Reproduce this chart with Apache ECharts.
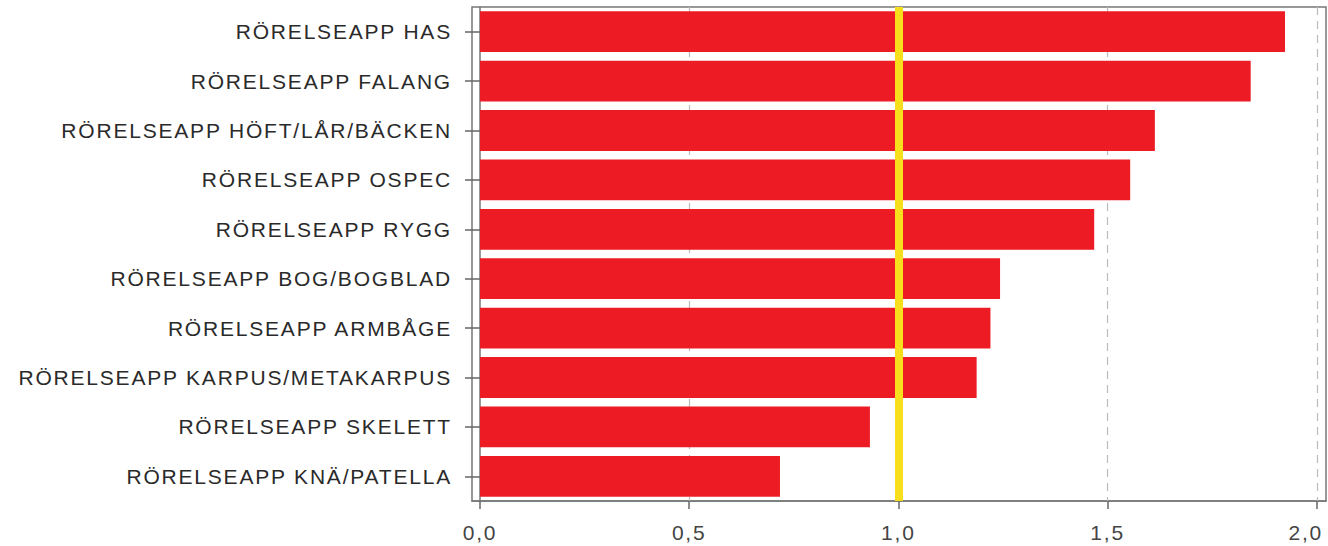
<!DOCTYPE html>
<html>
<head>
<meta charset="utf-8">
<script src="https://cdn.jsdelivr.net/npm/echarts@6/dist/echarts.min.js"></script>
<style>
html,body{margin:0;padding:0;background:#fff;}
#chart{width:1328px;height:546px;}
#chart svg text{letter-spacing:1.8px;}
</style>
</head>
<body>
<div id="chart"></div>
<script>
const categories = [
  'RÖRELSEAPP HAS',
  'RÖRELSEAPP FALANG',
  'RÖRELSEAPP HÖFT/LÅR/BÄCKEN',
  'RÖRELSEAPP OSPEC',
  'RÖRELSEAPP RYGG',
  'RÖRELSEAPP BOG/BOGBLAD',
  'RÖRELSEAPP ARMBÅGE',
  'RÖRELSEAPP KARPUS/METAKARPUS',
  'RÖRELSEAPP SKELETT',
  'RÖRELSEAPP KNÄ/PATELLA'
];
const values = [1.924, 1.842, 1.613, 1.554, 1.468, 1.243, 1.220, 1.187, 0.932, 0.717];
const tickValues = [0, 0.5, 1.0, 1.5, 2.0];
const gridValues = [0.5, 1.0, 1.5, 2.0];
const referenceValue = 1.0;

const chart = echarts.init(document.getElementById('chart'), null, {renderer: 'svg'});
const fontFam = '"Liberation Sans", Arial, sans-serif';
const lastTick = tickValues[tickValues.length - 1];
chart.setOption({
  animation: false,
  grid: {
    left: 472, right: 2, top: 7, bottom: 45,
    outerBoundsMode: 'none',
    containLabel: false,
    show: true, borderColor: '#777', borderWidth: 1.5, backgroundColor: '#fff'
  },
  xAxis: {
    type: 'value',
    min: -0.0191,
    max: 2.022,
    axisLine: {show: true, lineStyle: {color: '#777', width: 1.5}},
    axisTick: {show: true, customValues: tickValues, length: 8, lineStyle: {color: '#666', width: 1.5}},
    axisLabel: {
      customValues: tickValues,
      margin: 21,
      color: '#444',
      fontSize: 21,
      fontFamily: fontFam,
      formatter: v => {
        const s = v.toFixed(1).replace('.', ',');
        return Math.abs(v - lastTick) < 1e-9 ? '{last|' + s + '}' : s;
      },
      rich: {
        last: {color: '#444', fontSize: 21, fontFamily: fontFam, padding: [0, 22, 0, 0]}
      }
    },
    splitLine: {show: false}
  },
  yAxis: {
    type: 'category',
    data: categories,
    inverse: true,
    axisLine: {show: true, lineStyle: {color: '#777', width: 1.5}},
    axisTick: {show: true, alignWithLabel: true, length: 15, lineStyle: {color: '#666', width: 1.5}},
    axisLabel: {
      margin: 20,
      color: '#2a2a2a',
      fontSize: 21,
      fontFamily: fontFam
    }
  },
  series: [
    {
      type: 'line',
      data: [],
      z: 1,
      silent: true,
      markLine: {
        z: 1,
        silent: true,
        symbol: ['none', 'none'],
        label: {show: false},
        lineStyle: {color: '#bbb', type: [8, 6], width: 1.2},
        data: gridValues.map(v => ({xAxis: v}))
      }
    },
    {
      type: 'bar',
      data: values,
      z: 3,
      barCategoryGap: '17.5%',
      itemStyle: {color: '#ED1C24'},
      markLine: {
        z: 6,
        silent: true,
        symbol: ['none', 'none'],
        label: {show: false},
        lineStyle: {color: '#F7DF1E', type: 'solid', width: 8},
        data: [{xAxis: referenceValue}]
      }
    }
  ]
});
</script>
</body>
</html>
